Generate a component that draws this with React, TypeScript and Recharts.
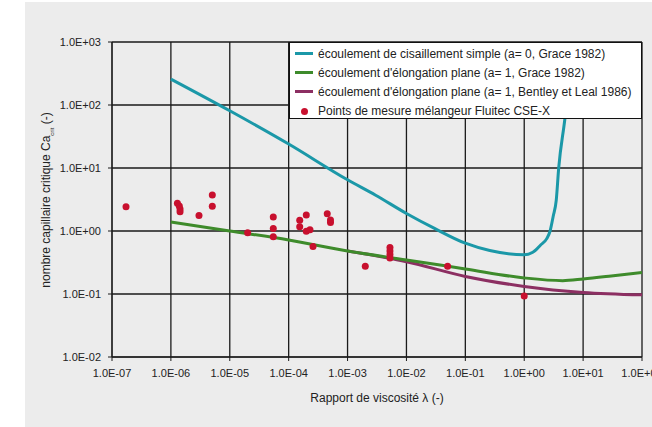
import React from 'react';
import { ComposedChart, Line, Scatter, XAxis, YAxis, CartesianGrid } from 'recharts';

const xTicks = [1e-7, 1e-6, 1e-5, 1e-4, 1e-3, 1e-2, 1e-1, 1, 10, 100];
const yTicks = [1e-2, 1e-1, 1, 10, 100, 1000];

const seriesNames = [
  'écoulement de cisaillement simple (a= 0, Grace 1982)',
  "écoulement d'élongation plane (a= 1, Grace 1982)",
  "écoulement d'élongation plane  (a= 1, Bentley et Leal 1986)",
  'Points de mesure mélangeur Fluitec CSE-X',
];
const seriesColors = ['#1b98a8', '#3e8b2b', '#8c2f62', '#c8102e'];

// Grace 1982, simple shear
const shearLambda = [1e-6, 1e-5, 1e-4, 1e-3, 3e-3, 1e-2, 3e-2, 0.1, 0.26, 1, 1.4, 1.9, 2.4, 2.75, 3.1, 3.5, 3.85, 4.9, 5.8];
const shearCa = [258, 81, 24, 6.5, 3.7, 1.9, 1.1, 0.64, 0.49, 0.42, 0.46, 0.6, 0.75, 1.0, 1.7, 3.1, 10, 60, 250];

// Grace 1982, plane elongation
const elongLambda = [1e-6, 1e-5, 1e-4, 1e-3, 1e-2, 0.1, 1, 4.5, 10, 30, 100];
const elongCa = [1.39, 1.0, 0.72, 0.48, 0.347, 0.25, 0.18, 0.163, 0.173, 0.193, 0.22];

// Bentley & Leal 1986, plane elongation
const bentleyLambda = [1e-3, 1e-2, 0.1, 1, 10, 100];
const bentleyCa = [0.48, 0.326, 0.19, 0.132, 0.106, 0.097];

// Measurement points, Fluitec CSE-X
const measLambda = [
  1.73e-7, 1.29e-6, 1.39e-6, 1.43e-6, 1.43e-6, 3.0e-6, 5.05e-6, 5.05e-6, 2.01e-5,
  5.48e-5, 5.48e-5, 5.48e-5, 1.54e-4, 1.54e-4, 1.99e-4, 1.99e-4, 2.3e-4, 2.59e-4,
  4.52e-4, 5.13e-4, 5.13e-4, 2.0e-3, 5.25e-3, 5.25e-3, 5.25e-3, 5.25e-3, 0.05, 1.0,
];
const measCa = [
  2.43, 2.75, 2.5, 2.23, 2.02, 1.77, 3.72, 2.47, 0.94,
  1.67, 1.1, 0.81, 1.48, 1.17, 1.8, 0.99, 1.05, 0.57,
  1.88, 1.5, 1.36, 0.275, 0.547, 0.482, 0.424, 0.373, 0.275, 0.093,
];

const toPts = (xs: number[], ys: number[]) => xs.map((x, i) => ({ x, y: ys[i] }));
const shearData = toPts(shearLambda, shearCa);
const elongData = toPts(elongLambda, elongCa);
const bentleyData = toPts(bentleyLambda, bentleyCa);
const measData = toPts(measLambda, measCa);

const fmt = (v: number) => {
  const e = Math.round(Math.log10(v));
  const s = e < 0 ? '-' : '+';
  const a = Math.abs(e);
  return `1.0E${s}${a < 10 ? '0' : ''}${a}`;
};

const FONT = '"Liberation Sans", Arial, Helvetica, sans-serif';

const LegendBox = () => (
  <div
    style={{
      position: 'absolute',
      left: 289,
      top: 42,
      width: 353,
      height: 77,
      boxSizing: 'border-box',
      border: '1px solid #111',
      background: '#fff',
      paddingTop: 1,
      fontFamily: FONT,
      fontSize: 12,
      color: '#222',
    }}
  >
    {seriesNames.map((n, i) => (
      <div key={n} style={{ height: 19.2, display: 'flex', alignItems: 'center', whiteSpace: 'nowrap' }}>
        <div style={{ width: 28, display: 'flex', justifyContent: 'center', alignItems: 'center' }}>
          {i < 3 ? (
            <div style={{ width: 18, height: 3, background: seriesColors[i] }} />
          ) : (
            <div style={{ width: 7, height: 7, borderRadius: 4, background: seriesColors[i] }} />
          )}
        </div>
        <span>{n}</span>
      </div>
    ))}
  </div>
);

const Dot = (props: any) => {
  const { cx, cy } = props;
  if (cx == null || cy == null) return null;
  return <circle cx={cx} cy={cy} r={3.5} fill={seriesColors[3]} />;
};

export default function App() {
  return (
    <div style={{ position: 'absolute', left: 0, top: 0, width: 652, height: 427, fontFamily: FONT, background: '#fff', overflow: 'hidden' }}>
      <div style={{ position: 'absolute', left: 25, top: 2, width: 627, height: 425, background: '#ececec' }} />
      <div style={{ position: 'absolute', left: 0, top: 0 }}>
        <ComposedChart width={652} height={427} margin={{ top: 42, right: 10, left: 0, bottom: 40 }}>
          <CartesianGrid stroke="#1a1a1a" strokeWidth={1.3} />
          <XAxis
            dataKey="x"
            type="number"
            scale="log"
            domain={[1e-7, 100]}
            allowDataOverflow
            ticks={xTicks}
            tickFormatter={fmt}
            height={30}
            tickSize={4}
            tickMargin={8}
            interval={0}
            stroke="#1a1a1a"
            tick={{ fontSize: 11, fill: '#222', fontFamily: FONT }}
          />
          <YAxis
            type="number"
            scale="log"
            domain={[1e-2, 1000]}
            allowDataOverflow
            ticks={yTicks}
            tickFormatter={fmt}
            width={112}
            tickSize={4}
            tickMargin={7}
            interval={0}
            stroke="#1a1a1a"
            tick={{ fontSize: 11, fill: '#222', fontFamily: FONT }}
          />
          <Line data={shearData} dataKey="y" type="monotone" stroke={seriesColors[0]} strokeWidth={3} dot={false} isAnimationActive={false} />
          <Line data={bentleyData} dataKey="y" type="monotone" stroke={seriesColors[2]} strokeWidth={3} dot={false} isAnimationActive={false} />
          <Line data={elongData} dataKey="y" type="monotone" stroke={seriesColors[1]} strokeWidth={3} dot={false} isAnimationActive={false} />
          <Scatter data={measData} dataKey="y" fill={seriesColors[3]} shape={<Dot />} isAnimationActive={false} />
        </ComposedChart>
      </div>
      <LegendBox />
      <div
        style={{
          position: 'absolute',
          left: 47,
          top: 199.5,
          transform: 'translate(-50%, -50%) rotate(-90deg)',
          whiteSpace: 'nowrap',
          fontSize: 12,
          color: '#222',
        }}
      >
        nombre capillaire critique Ca<sub style={{ fontSize: 6 }}>crit</sub> (-)
      </div>
      <div
        style={{
          position: 'absolute',
          left: 377,
          top: 398,
          transform: 'translate(-50%, -50%)',
          whiteSpace: 'nowrap',
          fontSize: 12,
          color: '#222',
        }}
      >
        Rapport de viscosité λ (-)
      </div>
    </div>
  );
}
